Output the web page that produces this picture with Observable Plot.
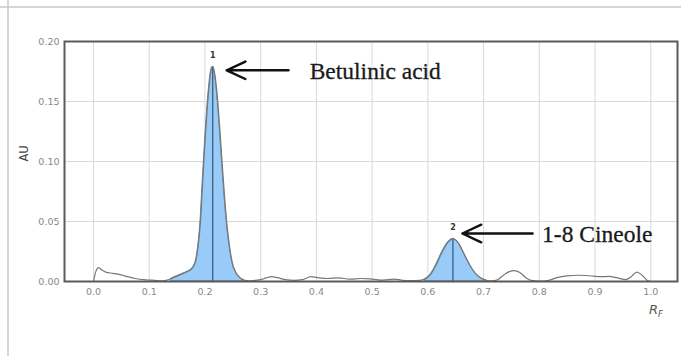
<!DOCTYPE html>
<html><head><meta charset="utf-8">
<script src="https://cdn.jsdelivr.net/npm/d3@7"></script>
<script src="https://cdn.jsdelivr.net/npm/@observablehq/plot@0.6"></script>
<style>body{margin:0;background:#fff}#chart{width:681px;height:356px;overflow:hidden}</style>
</head><body><div id="chart"></div>
<script>
const rf = [0.000,0.004,0.009,0.015,0.022,0.035,0.050,0.061,0.075,0.090,0.100,0.110,0.120,0.130,
0.140,0.150,0.160,0.170,0.178,0.184,0.188,0.192,0.195,0.198,0.202,0.206,0.210,0.214,0.218,0.223,0.227,0.231,0.235,0.239,0.244,0.249,0.255,0.262,0.270,
0.280,0.290,0.300,0.310,0.320,0.330,0.345,0.360,0.375,0.390,0.405,0.420,0.440,0.460,0.480,0.500,0.520,0.540,0.555,0.570,0.585,
0.595,0.605,0.615,0.625,0.635,0.645,0.655,0.665,0.675,0.685,0.695,0.705,
0.715,0.725,0.735,0.745,0.755,0.765,0.775,0.785,0.800,0.815,0.830,0.850,0.870,0.890,0.910,0.925,0.940,0.955,0.965,0.975,0.985,0.995,1.000];
const au = [0.0000,0.0080,0.0115,0.0095,0.0078,0.0068,0.0055,0.0040,0.0025,0.0015,0.0012,0.0010,0.0005,0.0010,
0.0025,0.0045,0.0065,0.0085,0.0115,0.0180,0.0300,0.0500,0.0750,0.1000,0.1300,0.1550,0.1730,0.1790,0.1720,0.1500,0.1250,0.0980,0.0720,0.0500,0.0300,0.0160,0.0080,0.0035,0.0012,
0.0005,0.0010,0.0015,0.0030,0.0040,0.0032,0.0015,0.0010,0.0015,0.0040,0.0030,0.0025,0.0030,0.0020,0.0025,0.0020,0.0012,0.0020,0.0010,0.0008,0.0010,
0.0020,0.0060,0.0140,0.0240,0.0320,0.0355,0.0320,0.0230,0.0140,0.0070,0.0030,0.0010,
0.0005,0.0015,0.0050,0.0080,0.0090,0.0075,0.0035,0.0010,0.0003,0.0008,0.0030,0.0047,0.0052,0.0048,0.0040,0.0042,0.0030,0.0015,0.0040,0.0078,0.0050,0.0005,0.0000];
const peakRf = [0.214, 0.645];
const peakAU = [0.179, 0.0355];
const peakLabel = ["1", "2"];
const peakStart = [0.135, 0.59];
const peakEnd = [0.275, 0.71];
const compound = ["Betulinic acid", "1-8 Cineole"];
const arrowFrom = [0.350, 0.788];
const arrowTo = [0.239, 0.662];
const arrowAU = [0.176, 0.040];
const textRf = [0.388, 0.805];
const xTicks = [0.0,0.1,0.2,0.3,0.4,0.5,0.6,0.7,0.8,0.9,1.0];
const yTicks = [0.00,0.05,0.10,0.15,0.20];
const yLabel = "AU";

const data = rf.map((r, i) => ({rf: r, au: au[i]}));
const peaks = peakRf.map((r, i) => ({rf: r, au: peakAU[i], label: peakLabel[i], name: compound[i],
  x1: arrowFrom[i], x2: arrowTo[i], ay: arrowAU[i], tx: textRf[i]}));
const peakAreas = peakStart.map((s, i) => data.filter(d => d.rf >= s && d.rf <= peakEnd[i]));

const plot = Plot.plot({
  width: 681, height: 356,
  marginLeft: 64, marginRight: 4, marginTop: 41, marginBottom: 75,
  style: {fontFamily: "DejaVu Sans, sans-serif", background: "transparent"},
  x: {domain: [-0.052, 1.048]},
  y: {domain: [0, 0.2]},
  marks: [
    Plot.gridX(xTicks, {stroke: "#d8d8d8", strokeOpacity: 1}),
    Plot.gridY(yTicks, {stroke: "#d8d8d8", strokeOpacity: 1}),
    Plot.axisX(xTicks, {tickSize: 0, tickPadding: 7, fontSize: 9.5, fill: "#888", tickFormat: d3.format(".1f"), label: null}),
    Plot.axisY(yTicks, {tickSize: 0, tickPadding: 5, fontSize: 9.5, fill: "#888", tickFormat: d3.format(".2f"), label: null}),
    Plot.text([yLabel], {frameAnchor: "left", dx: -40, rotate: -90, fontSize: 11.5, fill: "#444"}),
    ...peakAreas.map(a => Plot.areaY(a, {x: "rf", y: "au", curve: "monotone-x", fill: "#98cbf7", stroke: "#4a6d8e", strokeWidth: 0.8})),
    Plot.ruleX(peaks, {x: "rf", y1: 0, y2: "au", stroke: "#34557a", strokeWidth: 1.2}),
    Plot.line(data, {x: "rf", y: "au", curve: "monotone-x", stroke: "#777", strokeWidth: 1.2}),
    Plot.text(peaks, {x: "rf", y: "au", text: "label", dy: -11, fontSize: 8, fill: "#333", fontWeight: "bold"}),
    Plot.arrow(peaks, {x1: "x1", x2: "x2", y1: "ay", y2: "ay", stroke: "#111", strokeWidth: 2.4, headLength: 13, headAngle: 50}),
    Plot.text(peaks, {x: "tx", y: "ay", text: "name", textAnchor: "start", fontSize: 23.5, fontFamily: "Liberation Serif, Times New Roman, serif", fill: "#1a1a1a", stroke: "#1a1a1a", strokeWidth: 0.3, dy: 1}),
    Plot.frame({stroke: "#5a5a5a", strokeWidth: 2})
  ]
});
document.getElementById("chart").appendChild(plot);

const svg = d3.select(plot);
// image border lines
svg.append("line").attr("x1", 0).attr("x2", 681).attr("y1", 7).attr("y2", 7).attr("stroke", "#c8c8c8").attr("stroke-width", 1.5);
svg.append("line").attr("x1", 8).attr("x2", 8).attr("y1", 0).attr("y2", 356).attr("stroke", "#c8c8c8").attr("stroke-width", 1.5);
// R_F axis label
const t = svg.append("text").attr("x", 656).attr("y", 314).attr("fill", "#555").attr("font-size", 13)
  .attr("font-style", "italic").attr("font-family", "DejaVu Sans, sans-serif");
t.append("tspan").text("R");
t.append("tspan").attr("font-size", 8.5).attr("dy", 3).text("F");
</script></body></html>
